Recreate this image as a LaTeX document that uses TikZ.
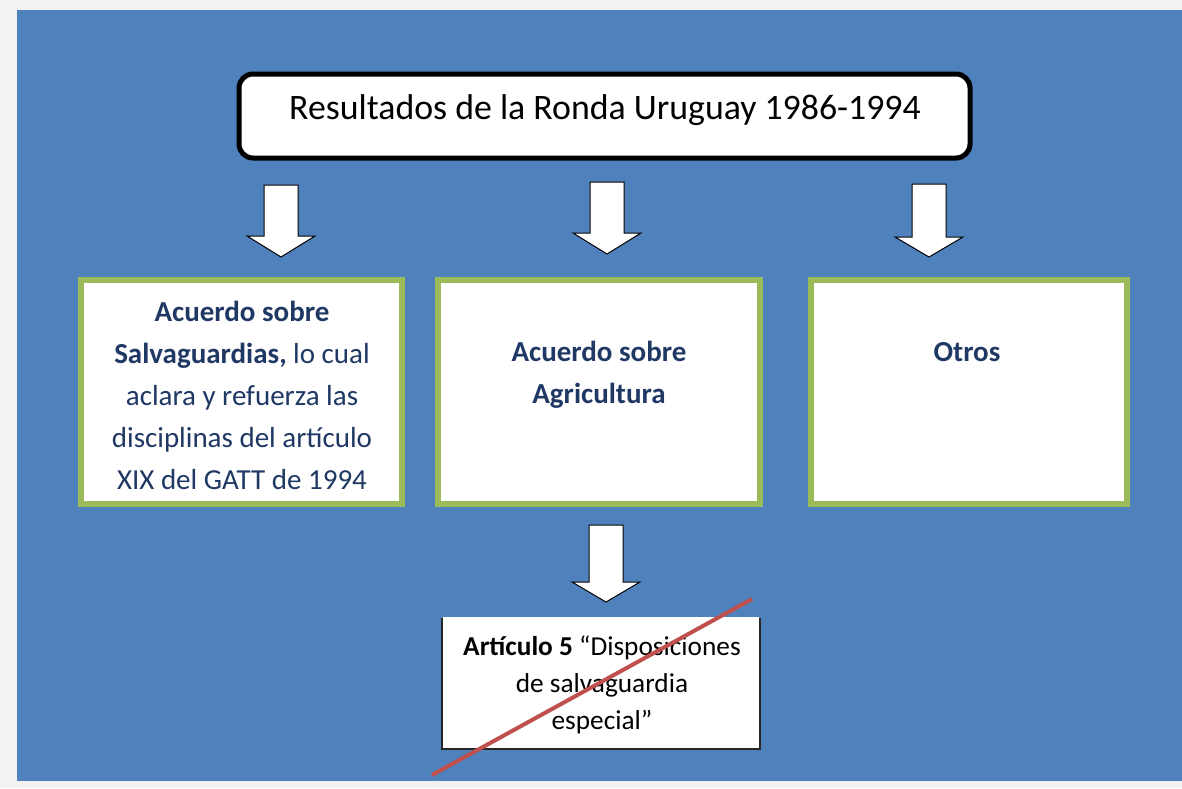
\documentclass[tikz,border=0pt]{standalone}
\usepackage{fontspec}
\setmainfont{Carlito}
\definecolor{bgpage}{HTML}{F2F2F2}
\definecolor{bgblue}{HTML}{4F81BD}
\definecolor{boxgreen}{HTML}{9BBB59}
\definecolor{navytext}{HTML}{1F3864}
\definecolor{strike}{HTML}{C0504D}
\tikzset{
  greenbox/.style={draw=boxgreen, line width=6pt, fill=white},
  titlebox/.style={draw=black, line width=5pt, fill=white, rounded corners=14pt},
  subbox/.style={draw=black!85, line width=1.5pt, fill=white},
  blockarrow/.style={draw=black, line width=1pt, fill=white, line join=miter},
  boxtext/.style={text=navytext, align=center, font={\fontsize{29}{42}\selectfont}},
  subtext/.style={text=black, align=center, font={\fontsize{27.3}{37}\selectfont}},
}
\newcommand{\myarrow}[4]{% x, ytop, yhead, ytip
  \draw[blockarrow] (#1-17,#2) -- (#1+17,#2) -- (#1+17,#3) -- (#1+34,#3) -- (#1,#4) -- (#1-34,#3) -- (#1-17,#3) -- cycle;}
\begin{document}
\begin{tikzpicture}[x=1pt,y=-1pt]
\useasboundingbox (0,0) rectangle (1182,788);
\fill[bgpage] (0,0) rectangle (1182,788);
\fill[bgblue] (17,10) rectangle (1182,781);

% title
\draw[titlebox] (239,74) rectangle (970,158);
\node[text=black, font={\fontsize{35.8}{42}\selectfont}] (title) at (605,110) {Resultados de la Ronda Uruguay 1986-1994};

% arrows
\myarrow{281}{185}{236}{257}
\myarrow{607}{182}{233}{254}
\myarrow{929}{184}{237}{257}
\myarrow{606}{525}{582}{602}

% green boxes
\draw[greenbox] (81,280) rectangle (402,504);
\draw[greenbox] (438,280) rectangle (760,504);
\draw[greenbox] (811,280) rectangle (1127,504);

\node[boxtext] (salv) at (242,395) {\textbf{Acuerdo sobre}\\\textbf{Salvaguardias,} lo cual\\aclara y refuerza las\\disciplinas del artículo\\XIX del GATT de 1994};
\node[boxtext] (agri) at (599,375) {\textbf{Acuerdo sobre}\\\textbf{Agricultura}};
\node[boxtext] (otros) at (967,352) {\textbf{Otros}};

% bottom box
\draw[subbox] (442,618) -- (442,749) -- (760,749) -- (760,618);
\fill[white] (443,617) rectangle (759,748);
\node[subtext] (art) at (602,685) {\textbf{Artículo 5} “Disposiciones\\de salvaguardia\\especial”};

% strike line
\draw[strike, line width=4pt] (432,775) -- (752,599);
\end{tikzpicture}
\end{document}
